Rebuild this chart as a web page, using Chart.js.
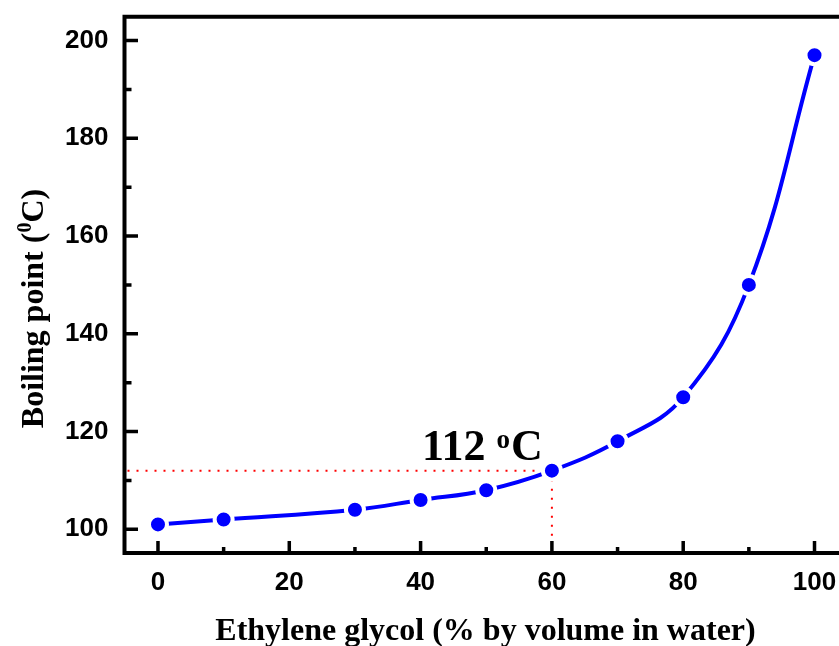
<!DOCTYPE html>
<html><head><meta charset="utf-8">
<script src="https://cdn.jsdelivr.net/npm/chart.js@4/dist/chart.umd.min.js"></script>
<style>html,body{margin:0;padding:0;background:#fff;overflow:hidden}#wrap{width:839px;height:646px;position:relative}</style>
</head><body><div id="wrap"><canvas id="c"></canvas></div>
<script>
const glycolPercent = [0, 10, 30, 40, 50, 60, 70, 80, 90, 100];
const boilingPoint = [101, 102, 104, 106, 108, 112, 118, 127, 150, 197];
const xTickValues = [0, 20, 40, 60, 80, 100];
const xMinorValues = [10, 30, 50, 70, 90];
const yTickValues = [100, 120, 140, 160, 180, 200];
const yMinorValues = [110, 130, 150, 170, 190];
const markedPoint = { x: 60, y: 112 };
const annotationAnchor = { x: 40.2, y: 114.2 };
const annotationParts = ['112 ', 'o', 'C'];
const xTitle = 'Ethylene glycol (% by volume in water)';
const yTitleParts = ['Boiling point (', '0', 'C)'];

const serif = '"Liberation Serif", "Times New Roman", serif';
const sans = '"Liberation Sans", Arial, sans-serif';

const decor = {
  id: 'decor',
  beforeDatasetsDraw(chart) {
    const { ctx, chartArea: a, scales: { x, y } } = chart;
    const px = x.getPixelForValue(markedPoint.x), py = y.getPixelForValue(markedPoint.y);
    ctx.save();
    ctx.strokeStyle = '#ff0000';
    ctx.lineWidth = 2;
    ctx.setLineDash([2, 7]);
    ctx.beginPath();
    ctx.moveTo(a.left + 3, py); ctx.lineTo(px, py);
    ctx.moveTo(px, py); ctx.lineTo(px, a.bottom - 2);
    ctx.stroke();
    ctx.restore();
  },
  afterDraw(chart) {
    const { ctx, chartArea: a, scales: { x, y } } = chart;
    ctx.save();
    ctx.strokeStyle = '#000';
    ctx.lineWidth = 4;
    ctx.lineCap = 'square';
    ctx.beginPath();
    ctx.moveTo(a.right + 5, a.top); ctx.lineTo(a.left, a.top); ctx.lineTo(a.left, a.bottom); ctx.lineTo(a.right + 5, a.bottom);
    ctx.stroke();
    ctx.lineCap = 'butt';
    ctx.lineWidth = 3.5;
    ctx.beginPath();
    xTickValues.forEach(v => { const p = x.getPixelForValue(v); ctx.moveTo(p, a.bottom); ctx.lineTo(p, a.bottom - 12); });
    xMinorValues.forEach(v => { const p = x.getPixelForValue(v); ctx.moveTo(p, a.bottom); ctx.lineTo(p, a.bottom - 6); });
    yTickValues.forEach(v => { const p = y.getPixelForValue(v); ctx.moveTo(a.left, p); ctx.lineTo(a.left + 13.5, p); });
    yMinorValues.forEach(v => { const p = y.getPixelForValue(v); ctx.moveTo(a.left, p); ctx.lineTo(a.left + 7, p); });
    ctx.stroke();

    // annotation
    ctx.fillStyle = '#000';
    ctx.textBaseline = 'alphabetic';
    ctx.textAlign = 'left';
    let ax = x.getPixelForValue(annotationAnchor.x), ay = y.getPixelForValue(annotationAnchor.y);
    ctx.font = 'bold 44px ' + serif;
    ctx.fillText(annotationParts[0], ax, ay);
    ax += ctx.measureText(annotationParts[0]).width;
    ctx.font = 'bold 27px ' + serif;
    ctx.fillText(annotationParts[1], ax, ay - 12);
    ax += ctx.measureText(annotationParts[1]).width + 1;
    ctx.font = 'bold 44px ' + serif;
    ctx.fillText(annotationParts[2], ax, ay);

    // x title
    ctx.font = 'bold 32px ' + serif;
    ctx.textAlign = 'center';
    ctx.fillText(xTitle, 485.5, 640);

    // y title
    ctx.translate(43, 308.5);
    ctx.rotate(-Math.PI / 2);
    ctx.textAlign = 'left';
    const big = 'bold 32px ' + serif, small = 'bold 20px ' + serif;
    ctx.font = big; const w0 = ctx.measureText(yTitleParts[0]).width;
    ctx.font = small; const w1 = ctx.measureText(yTitleParts[1]).width;
    ctx.font = big; const w2 = ctx.measureText(yTitleParts[2]).width;
    let tx = -(w0 + w1 + w2) / 2;
    ctx.font = big; ctx.fillText(yTitleParts[0], tx, 0); tx += w0;
    ctx.font = small; ctx.fillText(yTitleParts[1], tx, -12); tx += w1;
    ctx.font = big; ctx.fillText(yTitleParts[2], tx, 0);
    ctx.restore();
  }
};

new Chart(document.getElementById('c'), {
  type: 'line',
  data: {
    datasets: [{
      data: glycolPercent.map((g, i) => ({ x: g, y: boilingPoint[i] })),
      borderColor: '#0000ff',
      borderWidth: 4,
      backgroundColor: '#0000ff',
      pointBackgroundColor: '#0000ff',
      pointBorderColor: '#ffffff',
      pointBorderWidth: 4,
      pointRadius: 9,
      tension: 0.4,
      fill: false
    }]
  },
  options: {
    responsive: true,
    maintainAspectRatio: false,
    animation: false,
    events: [],
    layout: { autoPadding: false, padding: { top: 16.7, left: 0, right: 0, bottom: 0 } },
    plugins: { legend: { display: false }, tooltip: { enabled: false } },
    scales: {
      x: {
        type: 'linear', min: -5.1, max: 103.73,
        grid: { display: false, drawTicks: false },
        border: { display: false },
        afterBuildTicks: s => { s.ticks = xTickValues.map(v => ({ value: v })); },
        afterFit: s => { s.height = 93; s.paddingLeft = 0; s.paddingRight = 0; },
        ticks: { color: '#000', padding: 14, font: { family: sans, size: 26, weight: 'bold' }, maxRotation: 0, autoSkip: false }
      },
      y: {
        type: 'linear', min: 95.15, max: 204.87,
        grid: { display: false, drawTicks: false },
        border: { display: false },
        afterBuildTicks: s => { s.ticks = yTickValues.map(v => ({ value: v })); },
        afterFit: s => { s.width = 124.5; s.paddingTop = 0; s.paddingBottom = 0; },
        ticks: { color: '#000', padding: 16, font: { family: sans, size: 26, weight: 'bold' }, autoSkip: false }
      }
    }
  },
  plugins: [decor]
});
</script></body></html>
